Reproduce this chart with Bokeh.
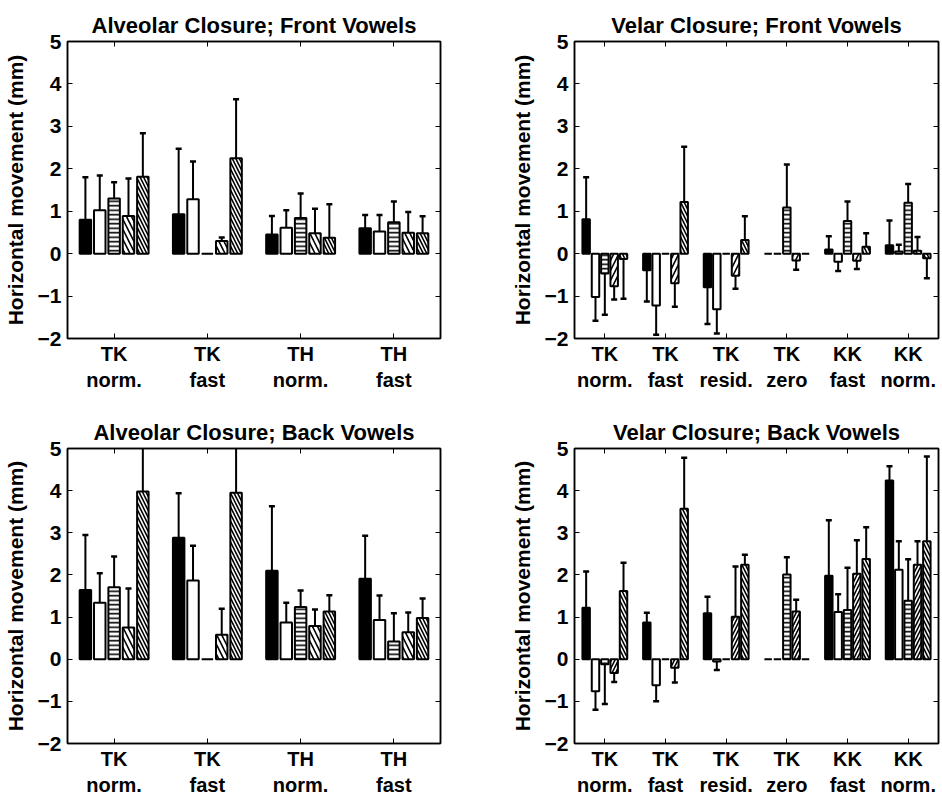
from bokeh.plotting import figure
from bokeh.models import FixedTicker, LinearAxis, Range1d, ColumnDataSource
from bokeh.layouts import column, row
from bokeh.embed import file_html
from bokeh.resources import INLINE

FONT = "Liberation Sans"

Y_TICKS = [-2, -1, 0, 1, 2, 3, 4, 5]
Y_LABEL = "Horizontal movement (mm)"

# ---- Alveolar closure, front vowels ----
AF_TITLE = "Alveolar Closure; Front Vowels"
AF_GROUPS = ["TK\nnorm.", "TK\nfast", "TH\nnorm.", "TH\nfast"]
AF_MEAN = [[0.80, 1.02, 1.30, 0.89, 1.81],
           [0.93, 1.28, 0.00, 0.30, 2.25],
           [0.45, 0.61, 0.84, 0.48, 0.375],
           [0.60, 0.52, 0.74, 0.49, 0.48]]
AF_SD = [[1.00, 0.82, 0.38, 0.88, 1.03],
         [1.54, 0.89, 0.00, 0.08, 1.39],
         [0.44, 0.41, 0.58, 0.58, 0.79],
         [0.31, 0.39, 0.49, 0.49, 0.40]]

# ---- Velar closure, front vowels ----
VF_TITLE = "Velar Closure; Front Vowels"
VF_GROUPS = ["TK\nnorm.", "TK\nfast", "TK\nresid.", "TK\nzero", "KK\nfast", "KK\nnorm."]
VF_MEAN = [[0.81, -1.02, -0.47, -0.77, -0.125],
           [-0.39, -1.22, 0.00, -0.70, 1.22],
           [-0.79, -1.31, 0.00, -0.52, 0.32],
           [0.00, 0.00, 1.09, -0.16, 0.00],
           [0.10, -0.19, 0.77, -0.17, 0.16],
           [0.20, 0.05, 1.20, 0.07, -0.11]]
VF_SD = [[0.99, 0.56, 0.97, 0.31, 0.94],
         [0.74, 0.69, 0.00, 0.55, 1.30],
         [0.87, 0.57, 0.00, 0.31, 0.56],
         [0.00, 0.00, 1.01, 0.22, 0.00],
         [0.31, 0.22, 0.46, 0.19, 0.32],
         [0.58, 0.16, 0.44, 0.32, 0.47]]

# ---- Alveolar closure, back vowels ----
AB_TITLE = "Alveolar Closure; Back Vowels"
AB_GROUPS = ["TK\nnorm.", "TK\nfast", "TH\nnorm.", "TH\nfast"]
AB_MEAN = [[1.64, 1.34, 1.71, 0.75, 3.98],
           [2.88, 1.87, 0.00, 0.58, 3.95],
           [2.10, 0.87, 1.24, 0.79, 1.13],
           [1.91, 0.93, 0.42, 0.64, 0.98]]
AB_SD = [[1.31, 0.70, 0.73, 0.93, 1.22],
         [1.06, 0.82, 0.00, 0.62, 1.19],
         [1.53, 0.47, 0.39, 0.39, 0.39],
         [1.02, 0.58, 0.67, 0.47, 0.46]]

# ---- Velar closure, back vowels ----
VB_TITLE = "Velar Closure; Back Vowels"
VB_GROUPS = ["TK\nnorm.", "TK\nfast", "TK\nresid.", "TK\nzero", "KK\nfast", "KK\nnorm."]
VB_MEAN = [[1.22, -0.76, -0.12, -0.33, 1.62],
           [0.87, -0.62, 0.00, -0.20, 3.57],
           [1.09, -0.055, 0.00, 1.01, 2.24],
           [0.00, 0.00, 2.01, 1.13, 0.00],
           [1.98, 1.12, 1.17, 2.03, 2.38],
           [4.24, 2.12, 1.39, 2.24, 2.80]]
VB_SD = [[0.86, 0.44, 0.94, 0.21, 0.67],
         [0.23, 0.38, 0.00, 0.35, 1.21],
         [0.39, 0.20, 0.00, 1.19, 0.24],
         [0.00, 0.00, 0.41, 0.28, 0.00],
         [1.32, 0.42, 1.00, 0.79, 0.75],
         [0.34, 0.68, 0.98, 0.56, 2.01]]

BAR_STEP = 0.154
BAR_WIDTH = 0.123


def bar_style(i, val, dense4):
    """Fill / hatch pattern / hatch scale for series i."""
    if i == 0:
        return "black", " ", 6
    if i == 1:
        return "white", " ", 6
    if i == 2:
        return "white", "-", 4.5
    if i == 3:
        if dense4:
            return "white", "/", 7
        return "white", ("\\" if val >= 0 else "/"), 10
    return "white", "\\", 7


def make_panel(title, groups, means, sds, width, height, mb, title_gap, dense4=False):
    n = len(groups)
    p = figure(width=width, height=height, output_backend="svg", toolbar_location=None,
               x_range=Range1d(0.5, n + 0.5), y_range=Range1d(-2, 5),
               min_border_left=mb[0], min_border_right=mb[1],
               min_border_top=mb[2], min_border_bottom=mb[3])
    p.title.text = title
    p.title.align = "center"
    p.title.text_font = FONT
    p.title.text_font_size = "22px"
    p.title.text_font_style = "bold"
    p.title.text_color = "black"
    p.title.offset = 0
    p.title.standoff = title_gap
    p.xgrid.visible = False
    p.ygrid.visible = False
    p.outline_line_color = "black"
    p.outline_line_width = 1.5
    p.background_fill_color = "white"
    p.border_fill_color = "white"

    xt = list(range(1, n + 1))
    p.xaxis.ticker = FixedTicker(ticks=xt)
    p.xaxis.major_label_overrides = {k: g for k, g in zip(xt, groups)}
    p.yaxis.ticker = FixedTicker(ticks=Y_TICKS)
    p.yaxis.axis_label = Y_LABEL
    for ax in (p.xaxis[0], p.yaxis[0]):
        ax.major_tick_in = 5
        ax.major_tick_out = 0
        ax.minor_tick_line_color = None
        ax.major_label_text_font = FONT
        ax.major_label_text_font_size = "21px"
        ax.major_label_text_font_style = "bold"
        ax.major_label_text_color = "black"
        ax.axis_line_width = 1.5
        ax.major_tick_line_width = 1
    p.xaxis.major_label_standoff = 4
    p.xaxis.major_label_text_font_size = "20px"
    p.yaxis.major_label_standoff = 6
    p.yaxis.axis_label_text_font = FONT
    p.yaxis.axis_label_text_font_size = "21px"
    p.yaxis.axis_label_text_font_style = "bold"
    p.yaxis.axis_label_text_color = "black"
    p.yaxis.axis_label_standoff = 8

    top_ax = LinearAxis(ticker=FixedTicker(ticks=xt), major_label_text_font_size="1px",
                        major_label_text_color=None,
                        major_tick_in=5, major_tick_out=0, minor_tick_line_color=None,
                        major_label_standoff=0, axis_line_width=1.5)
    right_ax = LinearAxis(ticker=FixedTicker(ticks=Y_TICKS), major_label_text_font_size="1px",
                          major_label_text_color=None,
                          major_tick_in=5, major_tick_out=0, minor_tick_line_color=None,
                          major_label_standoff=0, axis_line_width=1.5)
    p.add_layout(top_ax, "above")
    p.add_layout(right_ax, "right")

    for i in range(5):
        xs, tops, fills, pats, scales = [], [], [], [], []
        ex, ey0, ey1 = [], [], []
        for g in range(n):
            v = means[g][i]
            s = sds[g][i]
            x = (g + 1) + (i - 2) * BAR_STEP
            fc, pat, sc = bar_style(i, v, dense4)
            xs.append(x)
            tops.append(v)
            fills.append(fc)
            pats.append(pat)
            scales.append(sc)
            if s > 0:
                sign = 1 if v >= 0 else -1
                ex.append(x)
                ey0.append(v)
                ey1.append(v + sign * s)
        src = ColumnDataSource(dict(x=xs, top=tops, fill=fills, pat=pats))
        p.vbar(x="x", top="top", bottom=0, width=BAR_WIDTH, source=src,
               fill_color="fill", line_color="black", line_width=2,
               hatch_pattern="pat", hatch_color="black", hatch_weight=1.6,
               hatch_scale=scales[0])
        esrc = ColumnDataSource(dict(x=ex, y0=ey0, y1=ey1))
        p.segment(x0="x", y0="y0", x1="x", y1="y1", source=esrc,
                  line_color="black", line_width=2)
        p.scatter(x="x", y="y1", source=esrc, marker="dash", size=6,
                  line_color="black", line_width=2.5)
    return p


p1 = make_panel(AF_TITLE, AF_GROUPS, AF_MEAN, AF_SD, 507, 408, (65, 67, 41, 70), 8)
p2 = make_panel(VF_TITLE, VF_GROUPS, VF_MEAN, VF_SD, 435, 408, (57, 4, 41, 70), 8)
p3 = make_panel(AB_TITLE, AB_GROUPS, AB_MEAN, AB_SD, 507, 390, (65, 67, 40, 53), 8)
p4 = make_panel(VB_TITLE, VB_GROUPS, VB_MEAN, VB_SD, 435, 390, (57, 4, 40, 53), 8, dense4=True)

layout = column(row(p1, p2), row(p3, p4))

open("out.html", "w").write(file_html(layout, INLINE))
